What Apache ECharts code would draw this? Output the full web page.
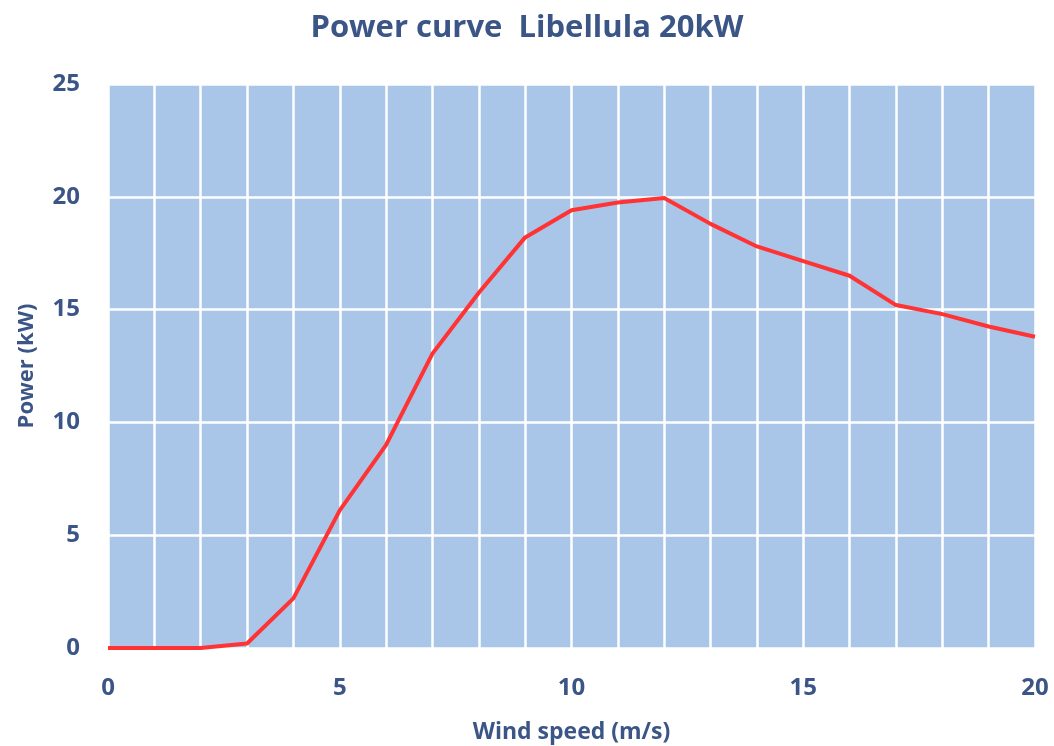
<!DOCTYPE html>
<html>
<head>
<meta charset="utf-8">
<script src="https://cdn.jsdelivr.net/npm/echarts@6/dist/echarts.min.js"></script>
<style>html,body{margin:0;padding:0;background:#fff;}#c{width:1054px;height:746px;}</style>
</head>
<body>
<div id="c"></div>
<script>
const windSpeed = [0,1,2,3,4,5,6,7,8,9,10,11,12,13,14,15,16,17,18,19,20];
const power = [0,0,0,0.2,2.2,6.1,9.0,13.05,15.75,18.2,19.4,19.75,19.95,18.8,17.8,17.15,16.5,15.2,14.8,14.25,13.8];
const xTicks = [0,5,10,15,20];
const yTicks = [0,5,10,15,20,25];

const txt = '#3a5586';
const font = '"Open Sans", "Liberation Sans", sans-serif';
const chart = echarts.init(document.getElementById('c'));
chart.setOption({
  animation: false,
  title: {
    text: 'Power curve  Libellula 20kW',
    left: 'center', top: 8,
    textStyle: { color: txt, fontFamily: font, fontWeight: 'bold', fontSize: 31 }
  },
  grid: { left: 108, right: 19, top: 84, bottom: 98, show: true, backgroundColor: '#a9c5e8', borderWidth: 0,
    outerBoundsMode: 'none', containLabel: false },
  xAxis: {
    type: 'value', min: 0, max: 20, interval: 1,
    name: 'Wind speed (m/s)', nameLocation: 'middle', nameGap: 73,
    nameTextStyle: { color: txt, fontFamily: font, fontSize: 23, fontWeight: 'bold' },
    axisLine: { show: false }, axisTick: { show: false },
    axisLabel: { color: txt, fontFamily: font, fontSize: 24, fontWeight: 'bold', margin: 28,
      formatter: v => xTicks.includes(v) ? String(v) : '' },
    splitLine: { show: true, lineStyle: { color: '#ffffff', width: 2.5 } }
  },
  yAxis: {
    type: 'value', min: 0, max: 25, interval: 5,
    name: 'Power (kW)', nameLocation: 'middle', nameGap: 70,
    nameTextStyle: { color: txt, fontFamily: font, fontSize: 22, fontWeight: 'bold' },
    axisLine: { show: false }, axisTick: { show: false },
    axisLabel: { color: txt, fontFamily: font, fontSize: 24, fontWeight: 'bold', margin: 28,
      formatter: v => yTicks.includes(v) ? String(v) : '' },
    splitLine: { show: true, lineStyle: { color: '#ffffff', width: 2.5 } }
  },
  series: [{
    type: 'line',
    data: windSpeed.map((x, i) => [x, power[i]]),
    showSymbol: false,
    lineStyle: { color: '#ff3333', width: 4 },
    itemStyle: { color: '#ff3333' },
    clip: false
  }]
});
</script>
</body>
</html>
